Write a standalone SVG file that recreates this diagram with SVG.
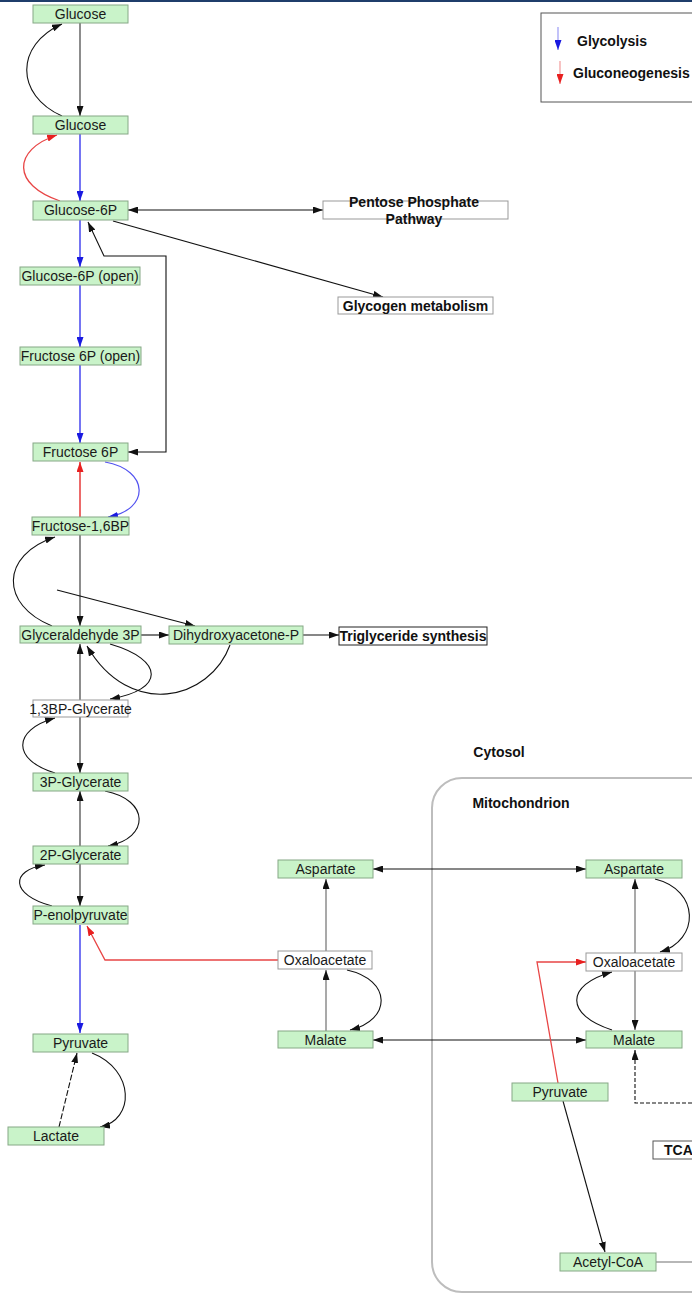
<svg xmlns="http://www.w3.org/2000/svg" width="692" height="1294" viewBox="0 0 692 1294">
<style>
.n rect{fill:#c9f3c9;stroke:#86a886;stroke-width:1}
.w rect{fill:#ffffff;stroke:#999;stroke-width:1}
.t{font-family:"Liberation Sans",Arial,sans-serif;font-size:14px;fill:#1a1a1a;text-anchor:middle}
.b{font-family:"Liberation Sans",Arial,sans-serif;font-size:14px;font-weight:bold;fill:#111;text-anchor:middle}
.g{fill:none;stroke:#707070;stroke-width:1.6}
.k{fill:none;stroke:#111;stroke-width:1.1}
.bl{fill:none;stroke:#5252f0;stroke-width:1.6}
.rd{fill:none;stroke:#e84545;stroke-width:1.3}
</style>
<defs>
<marker id="ak" viewBox="0 0 10 7" refX="10" refY="3.5" markerWidth="10" markerHeight="7" markerUnits="userSpaceOnUse" orient="auto-start-reverse"><path d="M0,0 L10,3.5 L0,7 z" fill="#111"/></marker>
<marker id="ab" viewBox="0 0 10 7" refX="10" refY="3.5" markerWidth="10" markerHeight="7" markerUnits="userSpaceOnUse" orient="auto-start-reverse"><path d="M0,0 L10,3.5 L0,7 z" fill="#1a1ae0"/></marker>
<marker id="ar" viewBox="0 0 10 7" refX="10" refY="3.5" markerWidth="10" markerHeight="7" markerUnits="userSpaceOnUse" orient="auto-start-reverse"><path d="M0,0 L10,3.5 L0,7 z" fill="#e82020"/></marker>
</defs>
<rect x="0" y="0" width="692" height="2" fill="#1f3d6b"/>
<g id="mitochondrion"><rect x="432" y="778" width="300" height="514" rx="30" fill="none" stroke="#bdbdbd" stroke-width="2"/></g>
<g id="labels">
<text class="b" x="499" y="757">Cytosol</text>
<text class="b" x="521" y="808">Mitochondrion</text>
</g>
<g id="legend">
<rect x="541" y="13" width="160" height="89" fill="#fff" stroke="#555" stroke-width="1"/>
<line x1="558" y1="27" x2="558" y2="50" stroke="#9a9af5" stroke-width="1.2" marker-end="url(#ab)"/>
<text class="b" x="577" y="46" style="text-anchor:start">Glycolysis</text>
<line x1="560" y1="61" x2="560" y2="84" stroke="#f29a9a" stroke-width="1.2" marker-end="url(#ar)"/>
<text class="b" x="573" y="78" style="text-anchor:start">Gluconeogenesis</text>
</g>
<g id="connectors">
<path class="g" d="M80,23 L80,116" marker-end="url(#ak)"/>
<path class="k" d="M62,116 C15,95 15,45 62,24" marker-end="url(#ak)"/>
<path class="rd" d="M60,201 C12,185 12,150 57,135" marker-end="url(#ar)"/>
<path class="bl" d="M80,134 L80,201" marker-end="url(#ab)"/>
<path class="k" d="M128,210 L323,210" marker-start="url(#ak)" marker-end="url(#ak)"/>
<path class="k" d="M113,221 L383,297" marker-end="url(#ak)"/>
<path class="k" d="M128,452 L166,452 L166,256 L104,256 L88,222" marker-start="url(#ak)" marker-end="url(#ak)"/>
<path class="bl" d="M80,220 L80,267" marker-end="url(#ab)"/>
<path class="bl" d="M80,285 L80,347" marker-end="url(#ab)"/>
<path class="bl" d="M80,365 L80,443" marker-end="url(#ab)"/>
<path class="bl" d="M105,462 C150,470 150,510 108,517" marker-end="url(#ab)" style="stroke-width:1.2"/>
<path class="rd" d="M80,517 L80,462" marker-end="url(#ar)" style="stroke-width:1.6"/>
<path class="g" d="M80,535 L80,626" marker-end="url(#ak)"/>
<path class="k" d="M52,626 C0,605 0,555 55,537" marker-end="url(#ak)"/>
<path class="k" d="M57,590 L195,626" marker-end="url(#ak)"/>
<path class="k" d="M141,635 L169,635" marker-end="url(#ak)"/>
<path class="k" d="M303,635 L339,635" marker-end="url(#ak)"/>
<path class="k" d="M110,644 C165,660 165,690 110,699" marker-end="url(#ak)"/>
<path class="k" d="M230,645 C210,700 130,720 87,646" marker-end="url(#ak)"/>
<path class="g" d="M80,700 L80,644" marker-end="url(#ak)"/>
<path class="g" d="M80,717 L80,773" marker-end="url(#ak)"/>
<path class="k" d="M55,773 C12,760 12,730 55,718" marker-end="url(#ak)"/>
<path class="g" d="M80,846 L80,791" marker-end="url(#ak)"/>
<path class="k" d="M105,791 C150,800 150,838 108,846" marker-end="url(#ak)"/>
<path class="g" d="M80,864 L80,906" marker-end="url(#ak)"/>
<path class="k" d="M52,906 C10,895 10,870 45,865" marker-end="url(#ak)"/>
<path class="rd" d="M278,960 L105,960 L87,926" marker-end="url(#ar)"/>
<path class="bl" d="M80,925 L80,1033" marker-end="url(#ab)"/>
<path class="k" d="M59,1127 L77,1053" stroke-dasharray="6,2" marker-end="url(#ak)"/>
<path class="k" d="M92,1053 C135,1070 135,1120 100,1127" marker-end="url(#ak)"/>
<path class="k" d="M373,869 L586,869" marker-start="url(#ak)" marker-end="url(#ak)"/>
<path class="g" d="M326,951 L326,879" marker-end="url(#ak)" style="stroke-width:1.2"/>
<path class="g" d="M326,1031 L326,970" marker-end="url(#ak)" style="stroke-width:1.2"/>
<path class="k" d="M347,970 C392,980 392,1020 350,1030" marker-end="url(#ak)"/>
<path class="k" d="M373,1040 L586,1040" marker-start="url(#ak)" marker-end="url(#ak)"/>
<path class="g" d="M635,953 L635,879" marker-end="url(#ak)" style="stroke-width:1.2"/>
<path class="k" d="M655,879 C700,890 700,940 660,952" marker-end="url(#ak)"/>
<path class="g" d="M635,971 L635,1030" marker-end="url(#ak)" style="stroke-width:1.2"/>
<path class="k" d="M612,1030 C565,1015 565,985 612,972" marker-end="url(#ak)"/>
<path class="rd" d="M558,1083 L537,962 L586,962" marker-end="url(#ar)"/>
<path class="k" d="M563,1101 L605,1252" marker-end="url(#ak)"/>
<path class="g" d="M656,1262 L692,1262" style="stroke-width:1.2"/>
<path class="k" d="M692,1103 L635,1103 L635,1050" stroke-dasharray="4,2" marker-end="url(#ak)"/>
</g>
<g id="glucose1" class="n"><rect x="33" y="5" width="95" height="18"/><text class="t" x="80.5" y="19">Glucose</text></g>
<g id="glucose2" class="n"><rect x="33" y="116" width="95" height="18"/><text class="t" x="80.5" y="130">Glucose</text></g>
<g id="glucose6p" class="n"><rect x="33" y="201" width="95" height="19"/><text class="t" x="80.5" y="215">Glucose-6P</text></g>
<g id="glucose6p-open" class="n"><rect x="20" y="267" width="120" height="18"/><text class="t" x="80" y="281">Glucose-6P (open)</text></g>
<g id="fructose6p-open" class="n"><rect x="20" y="347" width="121" height="18"/><text class="t" x="80.5" y="361">Fructose 6P (open)</text></g>
<g id="fructose6p" class="n"><rect x="33" y="443" width="95" height="18"/><text class="t" x="80.5" y="457">Fructose 6P</text></g>
<g id="fructose16bp" class="n"><rect x="32" y="517" width="97" height="18"/><text class="t" x="80.5" y="531">Fructose-1,6BP</text></g>
<g id="g3p" class="n"><rect x="20" y="626" width="121" height="17"/><text class="t" x="80.5" y="639.5">Glyceraldehyde 3P</text></g>
<g id="dhap" class="n"><rect x="169" y="626" width="134" height="18"/><text class="t" x="236" y="640">Dihydroxyacetone-P</text></g>
<g id="triglyceride"><rect x="339" y="627" width="148" height="18" fill="#fff" stroke="#222" stroke-width="1"/><text class="b" x="413" y="641">Triglyceride synthesis</text></g>
<g id="bpg13" class="w"><rect x="33" y="700" width="95" height="17"/><text class="t" x="80.5" y="713.5">1,3BP-Glycerate</text></g>
<g id="pg3" class="n"><rect x="33" y="773" width="95" height="18"/><text class="t" x="80.5" y="787">3P-Glycerate</text></g>
<g id="pg2" class="n"><rect x="33" y="846" width="95" height="18"/><text class="t" x="80.5" y="860">2P-Glycerate</text></g>
<g id="pep" class="n"><rect x="33" y="906" width="95" height="18"/><text class="t" x="80.5" y="920">P-enolpyruvate</text></g>
<g id="pyruvate" class="n"><rect x="33" y="1034" width="95" height="18"/><text class="t" x="80.5" y="1048">Pyruvate</text></g>
<g id="lactate" class="n"><rect x="8" y="1127" width="96" height="18"/><text class="t" x="56" y="1141">Lactate</text></g>
<g id="ppp" class="w"><rect x="323" y="201" width="185" height="18"/><text class="b" x="414" y="207">Pentose Phosphate</text><text class="b" x="414" y="224">Pathway</text></g>
<g id="glycogen" class="w"><rect x="338" y="297" width="155" height="17"/><text class="b" x="415.5" y="310.5">Glycogen metabolism</text></g>
<g id="aspartate-cyto" class="n"><rect x="278" y="860" width="95" height="18"/><text class="t" x="325.5" y="874">Aspartate</text></g>
<g id="oaa-cyto" class="w"><rect x="278" y="951" width="94" height="18"/><text class="t" x="325" y="965">Oxaloacetate</text></g>
<g id="malate-cyto" class="n"><rect x="278" y="1031" width="95" height="17"/><text class="t" x="325.5" y="1044.5">Malate</text></g>
<g id="aspartate-mito" class="n"><rect x="586" y="860" width="96" height="18"/><text class="t" x="634" y="874">Aspartate</text></g>
<g id="oaa-mito" class="w"><rect x="586" y="953" width="96" height="18"/><text class="t" x="634" y="967">Oxaloacetate</text></g>
<g id="malate-mito" class="n"><rect x="586" y="1031" width="96" height="17"/><text class="t" x="634" y="1044.5">Malate</text></g>
<g id="pyruvate-mito" class="n"><rect x="512" y="1083" width="96" height="18"/><text class="t" x="560" y="1097">Pyruvate</text></g>
<g id="acetylcoa" class="n"><rect x="560" y="1253" width="96" height="18"/><text class="t" x="608" y="1267">Acetyl-CoA</text></g>
<g id="tca"><rect x="653" y="1141" width="50" height="18" fill="#fff" stroke="#555" stroke-width="1"/><text class="b" x="664" y="1155" style="text-anchor:start">TCA</text></g>
</svg>
